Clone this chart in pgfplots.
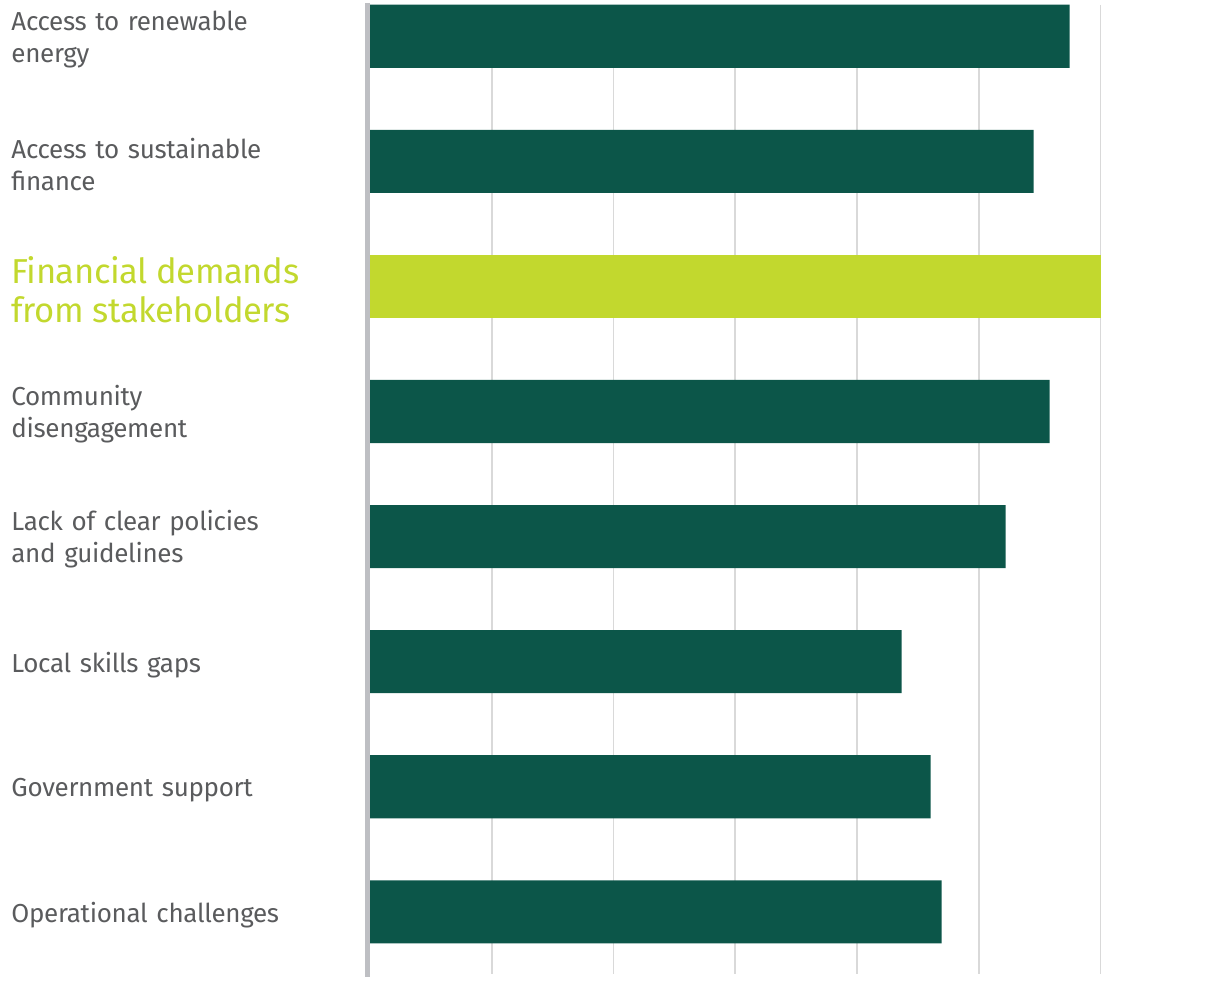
\documentclass[border=0pt]{standalone}
\usepackage{pgfplots}
\pgfplotsset{compat=1.18}
\usepackage{fontspec}
\setmainfont{Fira Sans}[LetterSpace=-1.2]
\definecolor{bardark}{HTML}{0C5649}
\definecolor{barlime}{HTML}{C2D82E}
\definecolor{labelgray}{HTML}{5A5B5D}
\definecolor{axisgray}{HTML}{BEBFC3}
\definecolor{gridgray}{HTML}{D9D9D9}
\begin{document}
\begin{tikzpicture}
\begin{axis}[
  scale only axis, width=427.5pt, height=484.75pt,
  xmin=0, xmax=7.02, ymin=-0.25, ymax=7.5, y dir=reverse,
  xbar, bar width=0.504, bar shift=0pt,
  axis line style={draw=none},
  xtick={1,2,3,4,5,6}, xticklabels={},
  xmajorgrids, major grid style={gridgray, line width=0.85pt},
  ytick={0,1,2,3,4,5,6,7},
  yticklabels={
    {Access to renewable\\energy},
    {Access to sustainable\\finance},
    {\fontsize{17.3}{19.5}\selectfont\color{barlime}Financial demands\\[3.5pt]from stakeholders},
    {Community\\disengagement},
    {Lack of clear policies\\and guidelines},
    {Local skills gaps},
    {Government support},
    {Operational challenges}},
  major tick length=0pt,
  yticklabel style={anchor=west, xshift=-179.5pt, yshift=-1.5pt, inner sep=0pt, text width=175pt, align=left,
    font=\fontsize{13}{16}\selectfont, text=labelgray},
  clip=false,
]
\addplot[draw=none, fill=bardark] coordinates {
  (5.746,0) (5.450,1) (5.581,3) (5.220,4) (4.367,5) (4.605,6) (4.695,7)};
\addplot[draw=none, fill=barlime] coordinates {(6.0,2)};
\draw[axisgray, line width=2.6pt] ([xshift=-1.4pt]axis cs:0,-0.265) -- ([xshift=-1.4pt]axis cs:0,7.52);
\end{axis}
\path ([xshift=-185pt,yshift=-1pt]current axis.south west) rectangle ([yshift=2.5pt]current axis.north east);
\end{tikzpicture}
\end{document}
